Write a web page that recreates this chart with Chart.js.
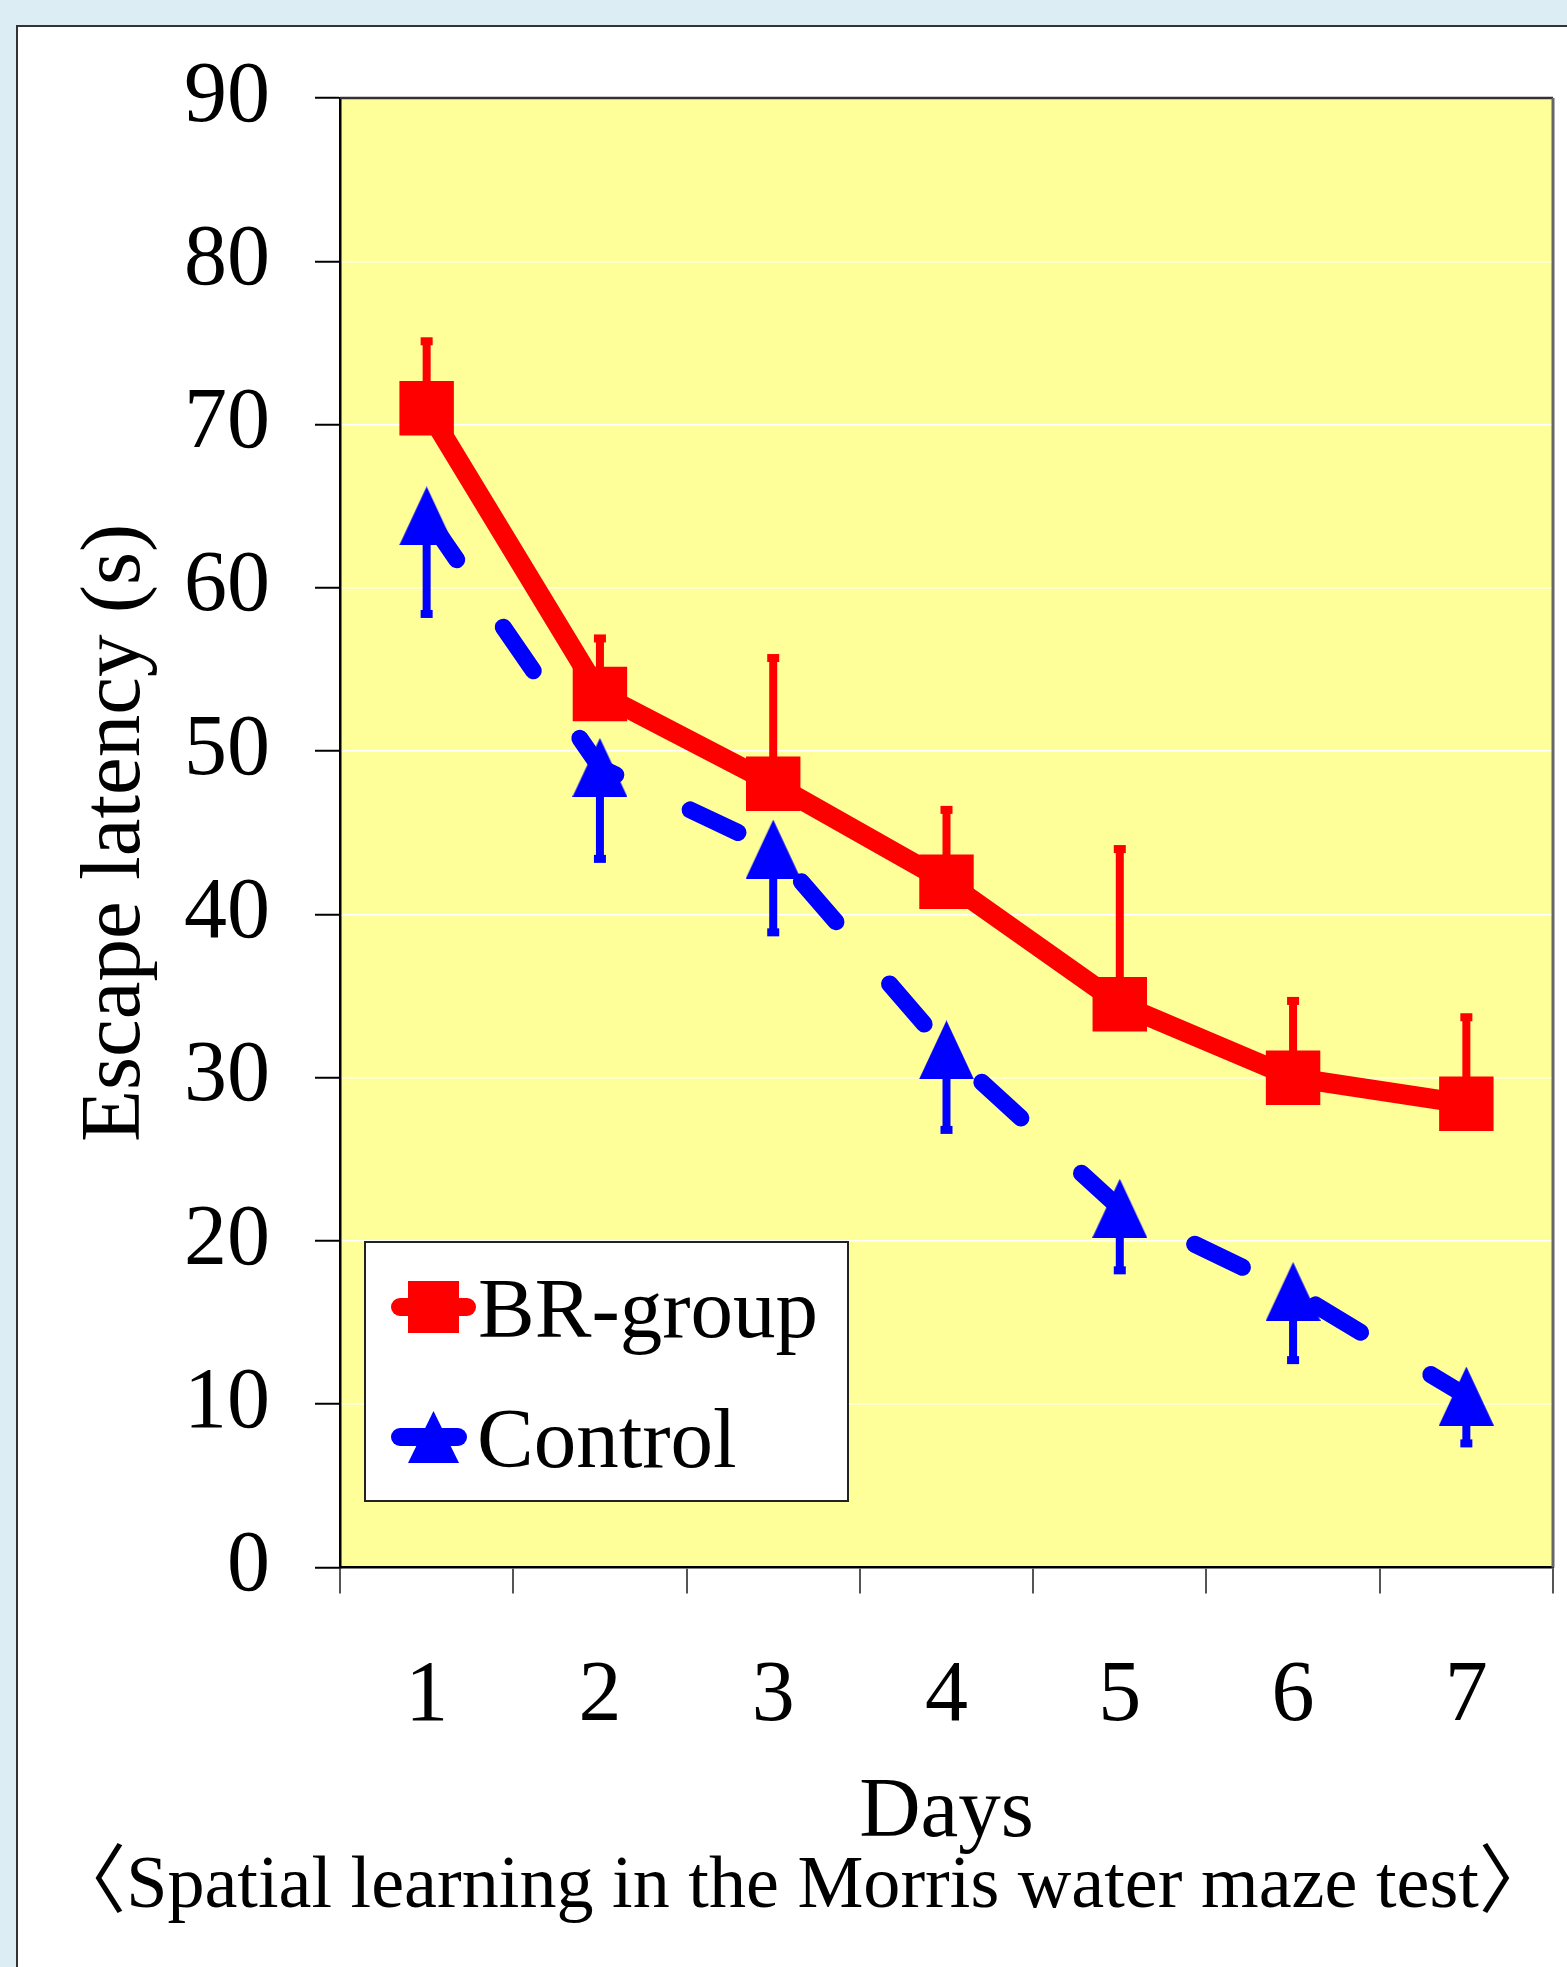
<!DOCTYPE html>
<html>
<head>
<meta charset="utf-8">
<script src="https://cdn.jsdelivr.net/npm/chart.js@4/dist/chart.umd.min.js"></script>
<style>
  html, body { margin: 0; padding: 0; background: #dcedf3; }
  canvas { display: block; }
</style>
</head>
<body>
<canvas id="mazeChart" width="1567" height="1967"></canvas>
<script>
// escape latency - Morris water maze

const days = ['1', '2', '3', '4', '5', '6', '7']
const yTicks = [0, 10, 20, 30, 40, 50, 60, 70, 80, 90]
const brGroup = [71, 53.5, 48, 42, 34.5, 30, 28.4]
const brGroupErr = [4.1, 3.4, 7.7, 4.4, 9.5, 4.7, 5.3]
const control = [64.4, 49, 44, 31.7, 22, 16.9, 10.5]
const controlErr = [6, 5.6, 5.1, 4.9, 3.8, 4.2, 2.9]

const RED = '#ff0000'
const BLUE = '#0000ff'
const SERIF = '"Liberation Serif", "Times New Roman", serif'

// triangle marker, a bit taller than wide like the excel one
const makeTriangle = function (w, h, color) {
  const c = document.createElement('canvas')
  c.width = w
  c.height = h
  const g = c.getContext('2d')
  g.fillStyle = color
  g.beginPath()
  g.moveTo(w / 2, 0)
  g.lineTo(w, h)
  g.lineTo(0, h)
  g.closePath()
  g.fill()
  return c
}
const bigTriangle = makeTriangle(55, 59, BLUE)

// sfondo, cornice, area gialla
const paperPlugin = {
  id: 'paper',
  beforeDraw(chart) {
    const { ctx, chartArea: a } = chart
    ctx.save()
    ctx.fillStyle = '#dcedf3'
    ctx.fillRect(0, 0, chart.width, chart.height)
    ctx.fillStyle = '#ffffff'
    ctx.fillRect(17, 26, chart.width, chart.height)
    ctx.strokeStyle = '#333333'
    ctx.lineWidth = 2
    ctx.beginPath()
    ctx.moveTo(17, chart.height)
    ctx.lineTo(17, 26)
    ctx.lineTo(chart.width, 26)
    ctx.stroke()
    ctx.fillStyle = '#ffff99'
    ctx.fillRect(a.left, a.top, a.right - a.left, a.bottom - a.top)
    ctx.restore()
  },
  beforeDatasetsDraw(chart) {
    const { ctx, chartArea: a } = chart
    ctx.save()
    ctx.strokeStyle = '#333333'
    ctx.lineWidth = 2.5
    ctx.beginPath()
    ctx.moveTo(a.left, a.top)
    ctx.lineTo(a.right, a.top)
    ctx.stroke()
    ctx.strokeStyle = '#666666'
    ctx.lineWidth = 3
    ctx.beginPath()
    ctx.moveTo(a.right, a.top)
    ctx.lineTo(a.right, a.bottom)
    ctx.stroke()
    ctx.restore()
  },
}

// barre di errore (solo un lato)
const errorBarPlugin = {
  id: 'errorBars',
  beforeDatasetsDraw(chart) {
    const { ctx } = chart
    const yScale = chart.scales.y
    const sets = [
      { index: 0, err: brGroupErr, dir: 1 },
      { index: 1, err: controlErr, dir: -1 },
    ]
    ctx.save()
    sets.forEach((s) => {
      const ds = chart.data.datasets[s.index]
      const meta = chart.getDatasetMeta(s.index)
      ctx.fillStyle = ds.borderColor
      meta.data.forEach((pt, i) => {
        const y0 = yScale.getPixelForValue(ds.data[i])
        const y1 = yScale.getPixelForValue(ds.data[i] + s.dir * s.err[i])
        ctx.fillRect(pt.x - 4, Math.min(y0, y1), 8, Math.abs(y1 - y0))
        ctx.fillRect(pt.x - 6, y1 - 4, 12, 8)
      })
    })
    ctx.restore()
  },
}

// legenda dentro il grafico
const boxLegendPlugin = {
  id: 'boxLegend',
  afterDraw(chart) {
    const { ctx } = chart
    ctx.save()
    ctx.fillStyle = '#ffffff'
    ctx.fillRect(365, 1242, 483, 259)
    ctx.strokeStyle = '#222222'
    ctx.lineWidth = 2
    ctx.strokeRect(365, 1242, 483, 259)

    ctx.lineCap = 'round'
    ctx.lineWidth = 18
    ctx.strokeStyle = RED
    ctx.beginPath()
    ctx.moveTo(400, 1307)
    ctx.lineTo(467, 1307)
    ctx.stroke()
    ctx.fillStyle = RED
    ctx.fillRect(408, 1281, 51, 52)

    ctx.strokeStyle = BLUE
    ctx.beginPath()
    ctx.moveTo(400, 1437)
    ctx.lineTo(458, 1437)
    ctx.stroke()
    ctx.drawImage(makeTriangle(51, 52, BLUE), 408, 1411)

    ctx.fillStyle = '#000000'
    ctx.font = '85px ' + SERIF
    ctx.textBaseline = 'alphabetic'
    ctx.fillText(chart.data.datasets[0].label, 478, 1337)
    ctx.fillText(chart.data.datasets[1].label, 477, 1467)
    ctx.restore()
  },
}

const ctx = document.getElementById('mazeChart').getContext('2d')

const mazeChart = new Chart(ctx, {
  type: 'line',
  data: {
    labels: days,
    datasets: [
      {
        label: 'BR-group',
        data: brGroup,
        borderColor: RED,
        backgroundColor: RED,
        borderWidth: 20,
        borderJoinStyle: 'round',
        pointStyle: 'rect',
        pointRadius: 38.5,
        pointBackgroundColor: RED,
        pointBorderWidth: 0,
        tension: 0,
      },
      {
        label: 'Control',
        data: control,
        borderColor: BLUE,
        backgroundColor: BLUE,
        borderWidth: 17,
        borderDash: [53, 82],
        borderCapStyle: 'round',
        borderJoinStyle: 'round',
        pointStyle: bigTriangle,
        pointRadius: 28,
        pointBorderWidth: 0,
        tension: 0,
      },
    ],
  },
  options: {
    responsive: false,
    animation: false,
    events: [],
    layout: {
      autoPadding: false,
      padding: { left: 52, top: 98, right: 14, bottom: 53 },
    },
    scales: {
      x: {
        type: 'category',
        offset: true,
        grid: {
          offset: true,
          drawOnChartArea: false,
          tickLength: 26,
          tickColor: '#555555',
          lineWidth: 2,
        },
        border: { display: true, color: '#000000', width: 2.5 },
        ticks: {
          color: '#000000',
          font: { family: SERIF, size: 86 },
          padding: 52,
          maxRotation: 0,
        },
        title: {
          display: true,
          text: 'Days',
          color: '#000000',
          font: { family: SERIF, size: 85, lineHeight: 0.7 },
          padding: { top: 0, bottom: 6 },
        },
        afterFit(scale) {
          scale.height = 282
          scale.paddingLeft = 0
          scale.paddingRight = 0
        },
      },
      y: {
        min: 0,
        max: 90,
        afterBuildTicks(axis) {
          axis.ticks = yTicks.map((v) => ({ value: v }))
        },
        grid: {
          color: '#ffffff',
          lineWidth: 1.5,
          tickLength: 25,
          tickColor: '#000000',
          tickWidth: 2,
        },
        border: { display: true, color: '#000000', width: 2.5 },
        ticks: {
          color: '#000000',
          font: { family: SERIF, size: 86 },
          padding: 45,
        },
        title: {
          display: true,
          text: 'Escape latency (s)',
          color: '#000000',
          font: { family: SERIF, size: 85 },
          padding: { top: 14, bottom: 0 },
        },
        afterFit(scale) {
          scale.width = 288
        },
      },
    },
    plugins: {
      legend: { display: false },
      tooltip: { enabled: false },
      title: {
        display: true,
        position: 'bottom',
        text: '\u3008Spatial learning in the Morris water maze test\u3009',
        color: '#000000',
        font: { family: SERIF + ', "Noto Sans CJK JP"', size: 75, weight: 'normal', lineHeight: 0.7 },
        padding: { top: 12, bottom: 0 },
      },
    },
  },
  plugins: [paperPlugin, errorBarPlugin, boxLegendPlugin],
})
</script>
</body>
</html>
